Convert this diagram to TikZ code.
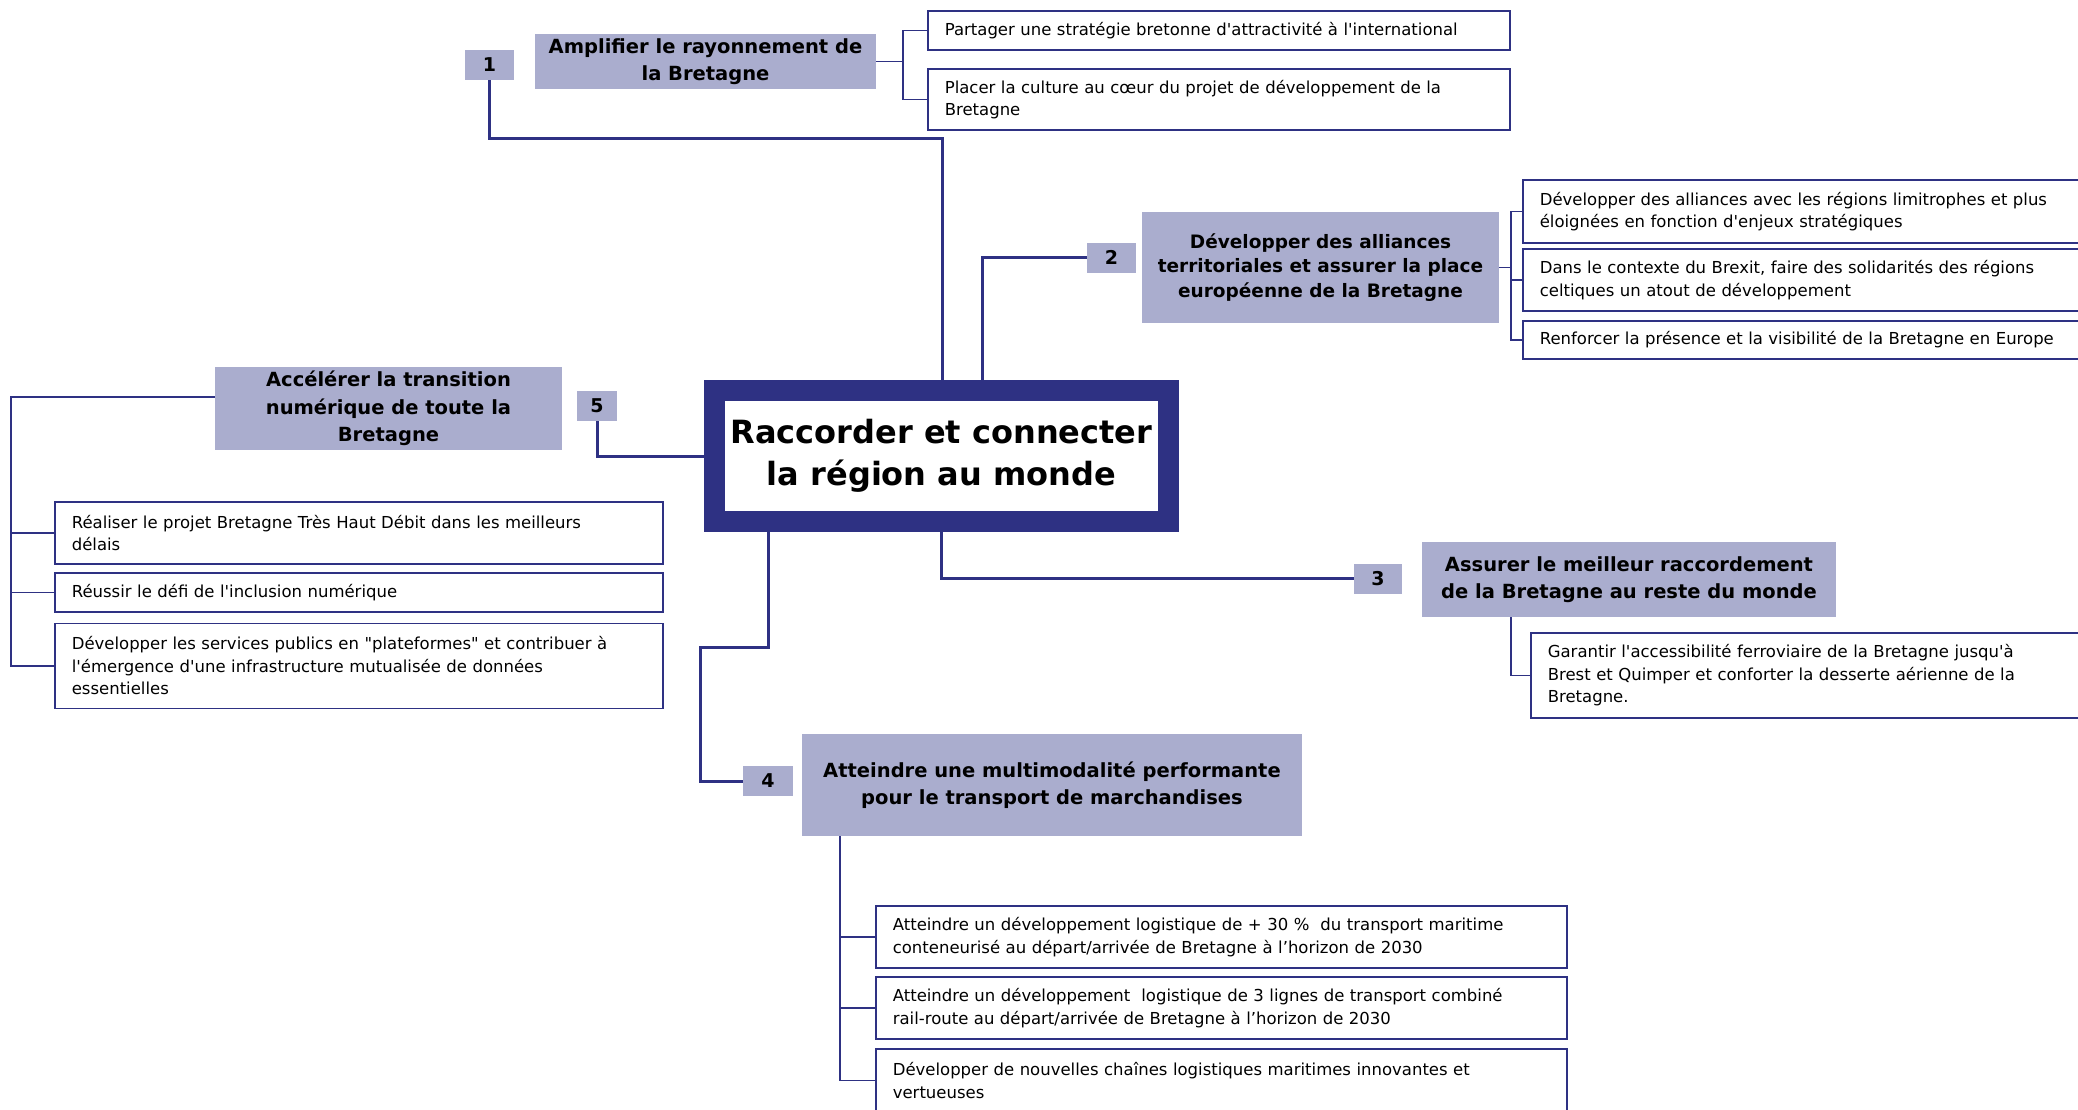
\documentclass[tikz,border=0pt]{standalone}
\usepackage{fontspec}
\setmainfont{DejaVu Sans}[Ligatures=TeXOff]
\definecolor{navy}{RGB}{46,49,131}
\definecolor{lavender}{RGB}{170,173,206}
\tikzset{
  centrebox/.style={draw=navy, line width=21pt, fill=white, minimum width=454pt,
    minimum height=131pt, align=center, font=\bfseries\fontsize{32}{42}\selectfont},
  numbox/.style={fill=lavender, minimum height=30pt, inner sep=0pt,
    font=\bfseries\fontsize{19}{24}\selectfont},
  titlebox/.style={fill=lavender, align=center, inner sep=0pt,
    font=\bfseries\fontsize{19.5}{27.5}\selectfont},
  subbox/.style={draw=navy, line width=1.6pt, fill=white, anchor=west, align=left,
    inner xsep=17pt, inner ysep=0pt, font=\fontsize{16.5}{22.5}\selectfont},
  link/.style={draw=navy, line width=3pt},
  bracket/.style={draw=navy, line width=1.6pt}
}
\begin{document}
\begin{tikzpicture}[x=1pt,y=-1pt]
 \useasboundingbox (0,0) rectangle (2078,1109);

 %central node
 \node[centrebox] (centre) at (941.5,456) {Raccorder et connecter\\la région au monde};

 %branch 1
 \node[numbox, minimum width=49pt] (n1) at (489.5,65) {1};
 \node[titlebox, minimum width=341pt, minimum height=55pt] (t1) at (705.5,61.5) {Amplifier le rayonnement de\\la Bretagne};
 \node[subbox, text width=548pt, minimum height=39pt] (s1a) at (927,30.5) {Partager une stratégie bretonne d'attractivité à l'international};
 \node[subbox, text width=548pt, minimum height=61pt] (s1b) at (927,99.5) {Placer la culture au cœur du projet de développement de la\\Bretagne};

 %branch 2
 \node[numbox, minimum width=49pt] (n2) at (1111.5,257.5) {2};
 \node[titlebox, minimum width=357pt, minimum height=111pt, font=\bfseries\fontsize{18.5}{24.5}\selectfont] (t2) at (1320.5,267.5) {Développer des alliances\\territoriales et assurer la place\\européenne de la Bretagne};
 \node[subbox, text width=560pt, minimum height=63pt] (s2a) at (1522,211.5) {Développer des alliances avec les régions limitrophes et plus\\éloignées en fonction d'enjeux stratégiques};
 \node[subbox, text width=560pt, minimum height=62pt] (s2b) at (1522,280) {Dans le contexte du Brexit, faire des solidarités des régions\\celtiques un atout de développement};
 \node[subbox, text width=560pt, minimum height=38pt] (s2c) at (1522,340) {Renforcer la présence et la visibilité de la Bretagne en Europe};

 %branch 3
 \node[numbox, minimum width=48pt] (n3) at (1378,578.5) {3};
 \node[titlebox, minimum width=414pt, minimum height=75pt] (t3) at (1629,579.5) {Assurer le meilleur raccordement\\de la Bretagne au reste du monde};
 \node[subbox, text width=560pt, minimum height=85pt] (s3) at (1530,675.5) {Garantir l'accessibilité ferroviaire de la Bretagne jusqu'à\\Brest et Quimper et conforter la desserte aérienne de la\\Bretagne.};

 %branch 4
 \node[numbox, minimum width=50pt] (n4) at (768,781) {4};
 \node[titlebox, minimum width=500pt, minimum height=102pt] (t4) at (1052,785) {Atteindre une multimodalité performante\\pour le transport de marchandises};
 \node[subbox, text width=657pt, minimum height=62pt] (s4a) at (875,937) {Atteindre un développement logistique de + 30 \%\ \ du transport maritime\\conteneurisé au départ/arrivée de Bretagne à l’horizon de 2030};
 \node[subbox, text width=657pt, minimum height=62pt] (s4b) at (875,1008) {Atteindre un développement\ \ logistique de 3 lignes de transport combiné\\rail-route au départ/arrivée de Bretagne à l’horizon de 2030};
 \node[subbox, text width=657pt, minimum height=63pt] (s4c) at (875,1080.5) {Développer de nouvelles chaînes logistiques maritimes innovantes et\\vertueuses};

 %branch 5
 \node[numbox, minimum width=40pt] (n5) at (597,406) {5};
 \node[titlebox, minimum width=347pt, minimum height=83pt] (t5) at (388.5,408.5) {Accélérer la transition\\numérique de toute la\\Bretagne};
 \node[subbox, text width=574pt, minimum height=62pt] (s5a) at (54,533) {Réaliser le projet Bretagne Très Haut Débit dans les meilleurs\\délais};
 \node[subbox, text width=574pt, minimum height=39pt] (s5b) at (54,592.5) {Réussir le défi de l'inclusion numérique};
 \node[subbox, text width=574pt, minimum height=85pt] (s5c) at (54,666) {Développer les services publics en "plateformes" et contribuer à\\l'émergence d'une infrastructure mutualisée de données\\essentielles};

 %links from the centre
 \coordinate (bend1) at (942,138);
 \coordinate (bend4) at (700,647);
 \draw[link] (n1.south) |- (bend1) -- ([xshift=0.5pt]centre.north);
 \draw[link] ([xshift=40.5pt]centre.north) |- (n2.west);
 \draw[link] (centre.south) |- (n3.west);
 \draw[link] ([xshift=-173.5pt]centre.south) |- (bend4) |- (n4.west);
 \draw[link] (n5.south) |- (centre.west);

 %brackets to the actions
 \draw[bracket] (t1.east) -- ++(27,0) coordinate (k1);
 \draw[bracket] (s1a.west) -| (k1) |- (s1b.west);
 \draw[bracket] (t2.east) -- ++(12,0) coordinate (k2);
 \draw[bracket] (s2a.west) -| (k2) |- (s2c.west);
 \draw[bracket] (k2) |- (s2b.west);
 \draw[bracket] ([xshift=89pt]t3.south west) |- (s3.west);
 \draw[bracket] ([xshift=38pt]t4.south west) |- (s4c.west);
 \draw[bracket] (s4a.west) -- ++(-35,0);
 \draw[bracket] (s4b.west) -- ++(-35,0);
 \draw[bracket] ([yshift=11.5pt]t5.west) -- ++(-204,0) |- (s5c.west);
 \draw[bracket] (s5a.west) -- ++(-43,0);
 \draw[bracket] (s5b.west) -- ++(-43,0);
\end{tikzpicture}
\end{document}
